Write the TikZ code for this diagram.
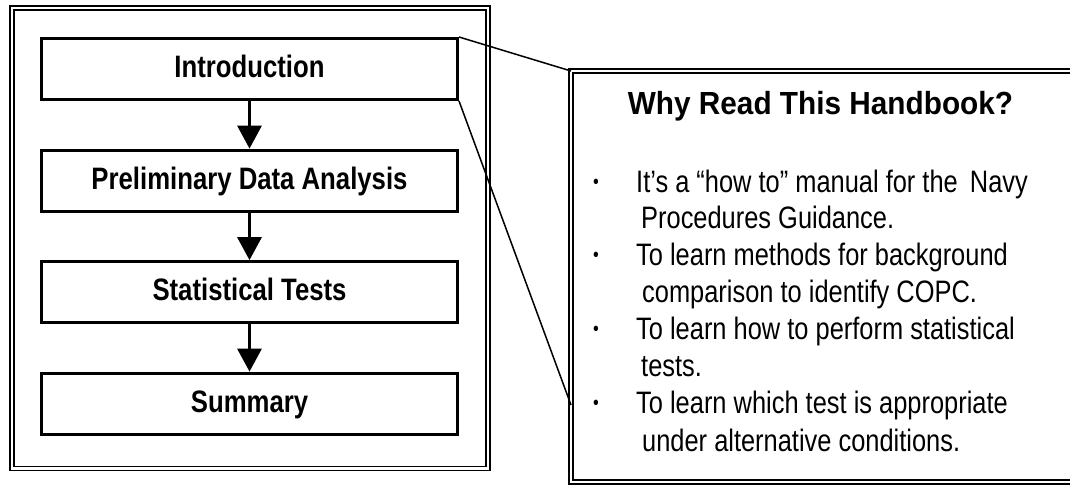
\documentclass[tikz,border=0pt]{standalone}
\usepackage{fontspec}
\setmainfont{Liberation Sans}
\newfontfamily\boxfont{Liberation Sans}[FakeStretch=0.83]
\newfontfamily\titlefont{Liberation Sans}[FakeStretch=0.93]
\newfontfamily\bodyfont{Liberation Sans}[FakeStretch=0.82]
\usetikzlibrary{arrows.meta}
\begin{document}
\begin{tikzpicture}[x=1pt,y=-1pt,
  stage/.style={draw, line width=3pt, minimum width=416pt, minimum height=61pt, inner sep=0pt,
    text height=23pt, text depth=6pt,
    font=\boxfont\bfseries\fontsize{31}{37}\selectfont},
  frame/.style={draw, double, line width=1.5pt, double distance=2.5pt, inner sep=0pt,
    outer sep=0pt, anchor=north west},
  flow/.style={line width=3pt, -{Triangle[width=25pt,length=23pt,line width=0pt]}},
  zoomline/.style={line width=1.5pt},
  bodyline/.style={anchor=base west, inner sep=0pt, font=\bodyfont\fontsize{31}{37}\selectfont},
  bulletmark/.style={anchor=base, inner sep=0pt, font=\bodyfont\fontsize{20}{20}\selectfont},
  titletext/.style={anchor=base, inner sep=0pt, font=\titlefont\bfseries\fontsize{32}{38}\selectfont}]
\useasboundingbox (0,0) rectangle (1070,485);

% frames
\node[frame, minimum width=476pt, minimum height=460.5pt] (leftframe) at (12,8) {};
\node[frame, minimum width=520pt, minimum height=411pt] (rightframe) at (571,71) {};

% stages
\node[stage] (intro)  at (249.5,69)    {Introduction};
\node[stage] (prelim) at (249.5,180.5) {Preliminary Data Analysis};
\node[stage] (stat)   at (249.5,292)   {Statistical Tests};
\node[stage] (summ)   at (249.5,403.5) {Summary};

\draw[flow] (intro.south) -- (prelim.north);
\draw[flow] (prelim.south) -- (stat.north);
\draw[flow] (stat.south) -- (summ.north);

% zoom connectors
\coordinate (rtarget) at (571,405);
\draw[zoomline] (intro.north east) -- (rightframe.north west);
\draw[zoomline] (intro.south east) -- (rtarget);

% right text
\node[titletext] (title) at (820.5,114) {Why Read This Handbook?};

\node[bulletmark] (b1) at (596,188) {•};
\node[bulletmark] (b2) at (596,261) {•};
\node[bulletmark] (b3) at (596,335) {•};
\node[bulletmark] (b4) at (596,409) {•};

\node[bodyline] (l1) at (636,192) {It’s a “how to” manual for the\hspace{5pt} Navy};
\node[bodyline] (l2) at (641,228) {Procedures Guidance.};
\node[bodyline] (l3) at (636,265) {To learn methods for background};
\node[bodyline] (l4) at (642,302) {comparison to identify COPC.};
\node[bodyline] (l5) at (636,339) {To learn how to perform statistical};
\node[bodyline] (l6) at (641,376) {tests.};
\node[bodyline] (l7) at (636,413) {To learn which test is appropriate};
\node[bodyline] (l8) at (642,451) {under alternative conditions.};
\end{tikzpicture}
\end{document}
